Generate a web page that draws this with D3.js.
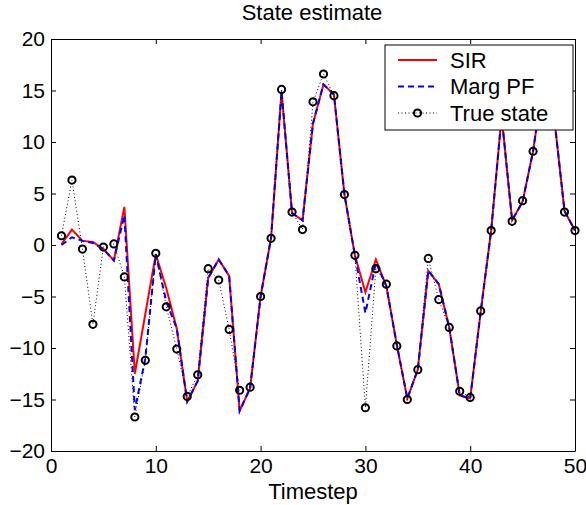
<!DOCTYPE html>
<html lang="en">
  <head>
    <meta charset="UTF-8" />
    <script src="https://d3js.org/d3.v7.min.js"></script>
    <title>State estimate</title>
    <style>
      body {
        margin: 0;
        background: #fff;
        font-family: "Liberation Sans", Arial, sans-serif;
      }
      .tick text {
        font-family: "Liberation Sans", Arial, sans-serif;
      }
    </style>
  </head>
  <body>
    <svg width="586" height="505"></svg>
    <script type="text/javascript">
      // Timestep 1..50
      const timesteps = d3.range(1, 51);

      const trueState = [
        0.9, 6.3, -0.4, -7.7, -0.2, 0.1, -3.1, -16.7, -11.2, -0.8,
        -6.0, -10.1, -14.7, -12.6, -2.3, -3.4, -8.2, -14.1, -13.8, -5.0,
        0.65, 15.1, 3.2, 1.5, 13.9, 16.6, 14.5, 4.9, -1.0, -15.8,
        -2.3, -3.8, -9.8, -15.0, -12.1, -1.3, -5.3, -8.0, -14.2, -14.8,
        -6.4, 1.4, 12.5, 2.3, 4.3, 9.1, 16.0, 12.5, 3.2, 1.4,
      ];

      const sir = [
        0.1, 1.5, 0.4, 0.3, -0.4, -1.5, 3.7, -12.5, -6.7, -0.9,
        -4.2, -8.1, -15.2, -13.2, -3.2, -1.4, -3.0, -16.1, -13.9, -5.0,
        0.7, 14.9, 3.1, 2.4, 11.8, 15.6, 14.6, 4.9, -1.0, -4.6,
        -1.4, -4.0, -9.7, -14.9, -12.1, -2.5, -3.8, -8.0, -14.6, -14.9,
        -6.5, 1.4, 12.5, 2.4, 4.2, 9.1, 16.2, 12.5, 3.3, 1.4,
      ];

      const margPF = [
        0.0, 0.75, 0.4, 0.2, -0.4, -1.5, 2.9, -16.0, -11.0, -0.9,
        -5.5, -8.1, -15.2, -13.2, -3.2, -1.4, -3.0, -16.1, -13.9, -5.0,
        0.7, 14.9, 3.1, 2.4, 11.8, 15.6, 14.6, 4.9, -1.0, -6.6,
        -1.7, -4.0, -9.7, -14.9, -12.1, -2.5, -3.8, -8.0, -14.6, -14.9,
        -6.5, 1.4, 12.5, 2.4, 4.2, 9.1, 16.2, 12.5, 3.3, 1.4,
      ];

      const xTicks = [0, 10, 20, 30, 40, 50];
      const yTicks = [-20, -15, -10, -5, 0, 5, 10, 15, 20];

      const width = 586;
      const height = 505;
      const margin = { top: 39, right: 11, bottom: 54, left: 51 };

      const xScale = d3
        .scaleLinear()
        .domain([0, 50])
        .range([margin.left, width - margin.right]);

      const yScale = d3
        .scaleLinear()
        .domain([-20, 20])
        .range([height - margin.bottom, margin.top]);

      const svg = d3.select("svg");
      svg.append("rect").attr("width", width).attr("height", height).attr("fill", "#fff");

      const minus = (d) => String(d).replace("-", "\u2212");

      // Axes: ticks point inward, box on
      const xAxis = d3.axisBottom(xScale).tickValues(xTicks).tickFormat(minus)
        .tickSizeInner(-5).tickSizeOuter(0).tickPadding(7);
      const yAxis = d3.axisLeft(yScale).tickValues(yTicks).tickFormat(minus)
        .tickSizeInner(-5).tickSizeOuter(0).tickPadding(6);
      const xAxisTop = d3.axisTop(xScale).tickValues(xTicks).tickFormat("")
        .tickSizeInner(-5).tickSizeOuter(0);
      const yAxisRight = d3.axisRight(yScale).tickValues(yTicks).tickFormat("")
        .tickSizeInner(-5).tickSizeOuter(0);

      const axes = [
        [xAxis, `translate(0, ${height - margin.bottom})`],
        [yAxis, `translate(${margin.left}, 0)`],
        [xAxisTop, `translate(0, ${margin.top})`],
        [yAxisRight, `translate(${width - margin.right}, 0)`],
      ];
      axes.forEach(([ax, tr]) => {
        const g = svg.append("g").attr("transform", tr).call(ax);
        g.selectAll("path, line").attr("stroke", "#000").attr("stroke-width", 1);
        g.selectAll("text").attr("fill", "#000").style("font-size", "21px");
      });

      const line = (vals) =>
        d3.line()
          .x((d, i) => xScale(timesteps[i]))
          .y((d) => yScale(d))(vals);

      // SIR
      svg.append("path")
        .attr("d", line(sir))
        .attr("fill", "none")
        .attr("stroke", "#ff0000")
        .attr("stroke-width", 2);

      // Marg PF
      svg.append("path")
        .attr("d", line(margPF))
        .attr("fill", "none")
        .attr("stroke", "#0000ff")
        .attr("stroke-width", 2)
        .attr("stroke-dasharray", "6,4");

      // True state
      svg.append("path")
        .attr("d", line(trueState))
        .attr("fill", "none")
        .attr("stroke", "#000")
        .attr("stroke-width", 1)
        .attr("stroke-dasharray", "1,2.5");

      svg.selectAll("circle.truth")
        .data(trueState)
        .enter()
        .append("circle")
        .attr("class", "truth")
        .attr("cx", (d, i) => xScale(timesteps[i]))
        .attr("cy", (d) => yScale(d))
        .attr("r", 3.6)
        .attr("fill", "none")
        .attr("stroke", "#000")
        .attr("stroke-width", 2);

      // Title and label
      svg.append("text")
        .attr("x", 312)
        .attr("y", 20)
        .attr("text-anchor", "middle")
        .style("font-size", "22px")
        .text("State estimate");

      svg.append("text")
        .attr("x", 313)
        .attr("y", 499)
        .attr("text-anchor", "middle")
        .style("font-size", "22px")
        .text("Timestep");

      // Legend
      const legend = svg.append("g");
      legend.append("rect")
        .attr("x", 385).attr("y", 45)
        .attr("width", 188).attr("height", 85)
        .attr("fill", "#fff").attr("stroke", "#000").attr("stroke-width", 1);

      const legendItems = [
        { name: "SIR", color: "#ff0000", dash: null, width: 2, marker: false },
        { name: "Marg PF", color: "#0000ff", dash: "6,4", width: 2, marker: false },
        { name: "True state", color: "#000", dash: "1,2.5", width: 1, marker: true },
      ];
      legendItems.forEach((item, i) => {
        const y = 60 + i * 26.5;
        legend.append("line")
          .attr("x1", 398).attr("x2", 437).attr("y1", y).attr("y2", y)
          .attr("stroke", item.color).attr("stroke-width", item.width)
          .attr("stroke-dasharray", item.dash);
        if (item.marker) {
          legend.append("circle")
            .attr("cx", 417.5).attr("cy", y).attr("r", 3.6)
            .attr("fill", "none").attr("stroke", "#000").attr("stroke-width", 2);
        }
        legend.append("text")
          .attr("x", 450).attr("y", y)
          .attr("dy", "0.36em")
          .style("font-size", "22px")
          .text(item.name);
      });
    </script>
  </body>
</html>
